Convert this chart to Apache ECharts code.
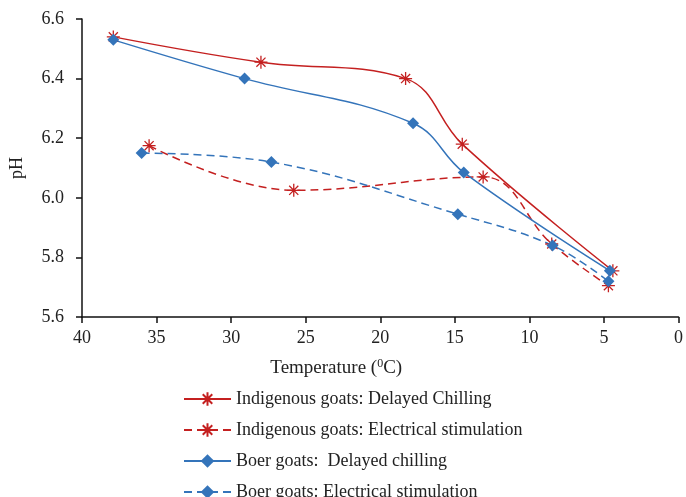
<!DOCTYPE html>
<html>
<head>
<meta charset="utf-8">
<script src="https://cdn.jsdelivr.net/npm/echarts@6/dist/echarts.min.js"></script>
<style>
  html, body { margin: 0; padding: 0; background: #fff; }
  #chart { width: 686px; height: 497px; }
</style>
</head>
<body>
<div id="chart"></div>
<script>
// series names
const seriesNames = [
  'Indigenous goats: Delayed Chilling',
  'Indigenous goats: Electrical stimulation',
  'Boer goats:  Delayed chilling',
  'Boer goats: Electrical stimulation'
]
// temperature (x) and pH (y)
const indDelayedTemp = [37.9, 28.0, 18.3, 14.5, 4.4]
const indDelayedPH = [6.54, 6.455, 6.40, 6.18, 5.755]
const indElecTemp = [35.5, 25.8, 13.1, 8.5, 4.7]
const indElecPH = [6.175, 6.025, 6.07, 5.845, 5.705]
const boerDelayedTemp = [37.9, 29.1, 17.8, 14.4, 4.6]
const boerDelayedPH = [6.53, 6.40, 6.25, 6.085, 5.755]
const boerElecTemp = [36.0, 27.3, 14.8, 8.45, 4.7]
const boerElecPH = [6.15, 6.12, 5.945, 5.84, 5.72]

const red = '#C42020'
const blue = '#3474BA'
const font = 'Liberation Serif'
// asterisk as open strokes
const star = 'path://M0 5 L10 5 M5 0 L5 10 M1.5 1.5 L8.5 8.5 M8.5 1.5 L1.5 8.5'

function pairs(xs, ys){
  return xs.map((x, i) => [x, ys[i]])
}

function makeSeries(name, xs, ys, color, dashed, symbol){
  const isStar = symbol === star
  return {
    name: name,
    type: 'line',
    smooth: 0.4,
    data: pairs(xs, ys),
    symbol: symbol,
    symbolSize: isStar ? 13 : 12,
    showAllSymbol: true,
    lineStyle: { color: color, width: 1.5, type: dashed ? [8, 5] : 'solid' },
    itemStyle: isStar
      ? { color: 'rgba(0,0,0,0)', borderColor: color, borderWidth: 1.3 }
      : { color: color, borderWidth: 0 },
    emphasis: { disabled: true }
  }
}

const chart = echarts.init(document.getElementById('chart'))
chart.setOption({
  animation: false,
  textStyle: { fontFamily: font },
  grid: { left: 81, right: 5, top: 19, bottom: 180 },
  legend: {
    orient: 'vertical',
    left: 178,
    top: 385,
    height: 300,
    itemWidth: 47,
    itemHeight: 17,
    itemGap: 13,
    textStyle: { fontFamily: font, fontSize: 18, color: '#222' },
    data: seriesNames
  },
  xAxis: {
    type: 'value',
    min: 0,
    max: 40,
    interval: 5,
    inverse: true,
    name: 'Temperature ({s|0}C)',
    nameLocation: 'middle',
    nameGap: 41,
    nameTextStyle: {
      fontFamily: font, fontSize: 19, color: '#222',
      padding: [0, 88, 0, 0],
      rich: { s: { fontSize: 12, verticalAlign: 'top', padding: [0, 0, 8, 0], fontFamily: font, color: '#222' } }
    },
    splitLine: { show: false },
    axisLine: { lineStyle: { color: '#111', width: 1.5 } },
    axisTick: { show: true, length: 6, lineStyle: { color: '#111', width: 1.5 } },
    axisLabel: { fontFamily: font, fontSize: 18, color: '#222', margin: 12 }
  },
  yAxis: {
    type: 'value',
    min: 5.6,
    max: 6.6,
    interval: 0.2,
    position: 'left',
    name: 'pH',
    nameLocation: 'middle',
    nameGap: 56,
    nameTextStyle: { fontFamily: font, fontSize: 18, color: '#222' },
    splitLine: { show: false },
    axisLine: { show: true, onZero: false, lineStyle: { color: '#111', width: 1.5 } },
    axisTick: { show: true, length: 6, lineStyle: { color: '#111', width: 1.5 } },
    axisLabel: {
      fontFamily: font, fontSize: 18, color: '#222', margin: 18,
      formatter: v => v.toFixed(1)
    }
  },
  series: [
    makeSeries(seriesNames[0], indDelayedTemp, indDelayedPH, red, false, star),
    makeSeries(seriesNames[1], indElecTemp, indElecPH, red, true, star),
    makeSeries(seriesNames[2], boerDelayedTemp, boerDelayedPH, blue, false, 'diamond'),
    makeSeries(seriesNames[3], boerElecTemp, boerElecPH, blue, true, 'diamond')
  ]
})
</script>
</body>
</html>
